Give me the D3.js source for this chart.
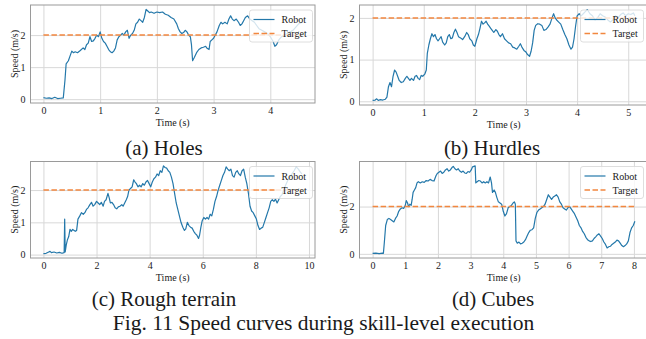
<!DOCTYPE html>
<html>
<head>
<meta charset="utf-8">
<script src="https://cdn.jsdelivr.net/npm/d3@7"></script>
<style>
  body { margin: 0; background: #fff; }
  svg { display: block; }
  text { font-family: "Liberation Serif", "Times New Roman", serif; fill: #1a1a1a; }
</style>
</head>
<body>
<svg id="fig" width="646" height="339"></svg>
<script>
// ---- data ----
const holesTime = [0, 0.05, 0.1, 0.15, 0.2, 0.25, 0.3, 0.35, 0.38, 0.4, 0.44, 0.47, 0.5, 0.53, 0.56, 0.6, 0.65, 0.7, 0.73, 0.76, 0.79, 0.82, 0.85, 0.88, 0.91, 0.94, 0.97, 1.0, 1.03, 1.06, 1.09, 1.12, 1.15, 1.18, 1.21, 1.24, 1.27, 1.3, 1.33, 1.36, 1.39, 1.42, 1.45, 1.48, 1.51, 1.54, 1.57, 1.6, 1.63, 1.66, 1.69, 1.72, 1.75, 1.78, 1.81, 1.84, 1.87, 1.9, 1.95, 2.0, 2.05, 2.1, 2.15, 2.2, 2.25, 2.3, 2.35, 2.38, 2.41, 2.44, 2.47, 2.5, 2.53, 2.56, 2.59, 2.61, 2.63, 2.66, 2.7, 2.74, 2.78, 2.82, 2.86, 2.89, 2.92, 2.94, 2.97, 3.0, 3.03, 3.06, 3.1, 3.13, 3.16, 3.2, 3.24, 3.27, 3.3, 3.33, 3.36, 3.4, 3.44, 3.47, 3.5, 3.53, 3.56, 3.6, 3.64, 3.68, 3.72, 3.76, 3.8, 3.85, 3.9, 3.95, 4.0, 4.05, 4.08, 4.11, 4.15, 4.2, 4.25, 4.3, 4.35, 4.4, 4.45, 4.5, 4.56]
const holesSpeed = [0.05, 0.03, 0.04, 0.02, 0.06, 0.02, 0.03, 0.04, 0.6, 1.1, 1.2, 1.35, 1.5, 1.45, 1.48, 1.45, 1.52, 1.6, 1.55, 1.7, 1.75, 1.95, 1.8, 1.82, 1.9, 2.0, 1.95, 2.1, 1.9, 1.8, 1.75, 1.65, 1.55, 1.48, 1.45, 1.5, 1.6, 1.85, 1.95, 2.0, 2.05, 2.0, 2.1, 2.15, 1.9, 2.0, 2.05, 2.15, 2.35, 2.4, 2.5, 2.45, 2.4, 2.55, 2.8, 2.75, 2.7, 2.72, 2.68, 2.72, 2.7, 2.72, 2.65, 2.62, 2.55, 2.5, 2.35, 2.2, 2.1, 2.05, 2.08, 2.15, 2.1, 2.0, 1.95, 1.7, 1.2, 1.3, 1.45, 1.55, 1.6, 1.62, 1.65, 1.58, 1.55, 1.8, 1.85, 1.9, 2.0, 2.1, 2.3, 2.4, 2.35, 2.4, 2.35, 2.5, 2.6, 2.5, 2.45, 2.5, 2.4, 2.3, 2.35, 2.45, 2.55, 2.6, 2.5, 2.45, 2.4, 2.3, 2.2, 2.15, 2.1, 2.05, 1.95, 1.8, 1.65, 1.7, 1.85, 1.95, 2.0, 2.05, 2.1, 2.15, 2.25, 2.35, 2.4]

const hurdlesTime = [0, 0.05, 0.08, 0.11, 0.15, 0.2, 0.25, 0.28, 0.31, 0.34, 0.37, 0.4, 0.43, 0.46, 0.49, 0.52, 0.56, 0.6, 0.64, 0.67, 0.7, 0.73, 0.76, 0.8, 0.83, 0.86, 0.89, 0.92, 0.95, 0.98, 1.02, 1.05, 1.07, 1.1, 1.13, 1.16, 1.19, 1.22, 1.25, 1.28, 1.31, 1.34, 1.37, 1.41, 1.44, 1.47, 1.5, 1.53, 1.56, 1.59, 1.62, 1.65, 1.68, 1.72, 1.76, 1.8, 1.84, 1.87, 1.9, 1.94, 1.97, 2.0, 2.04, 2.07, 2.1, 2.13, 2.16, 2.19, 2.22, 2.25, 2.28, 2.31, 2.34, 2.37, 2.41, 2.44, 2.47, 2.5, 2.54, 2.58, 2.62, 2.66, 2.7, 2.74, 2.78, 2.82, 2.86, 2.89, 2.92, 2.96, 3.0, 3.03, 3.07, 3.1, 3.13, 3.16, 3.19, 3.23, 3.27, 3.31, 3.35, 3.39, 3.43, 3.47, 3.51, 3.54, 3.57, 3.6, 3.64, 3.68, 3.72, 3.76, 3.8, 3.84, 3.88, 3.91, 3.94, 3.97, 4.0, 4.04, 4.08, 4.12, 4.16, 4.2, 4.25, 4.3, 4.35, 4.4, 4.45, 4.5, 4.55, 4.6, 4.65, 4.7, 4.75, 4.8, 4.85, 4.9, 4.95, 5.0, 5.05, 5.1, 5.13]
const hurdlesSpeed = [0.02, 0.03, 0.06, 0.02, 0.04, 0.03, 0.05, 0.1, 0.35, 0.45, 0.35, 0.6, 0.75, 0.7, 0.6, 0.5, 0.45, 0.47, 0.55, 0.6, 0.55, 0.5, 0.55, 0.5, 0.6, 0.62, 0.55, 0.52, 0.62, 0.6, 0.65, 0.75, 1.15, 1.35, 1.5, 1.62, 1.55, 1.6, 1.5, 1.45, 1.5, 1.55, 1.42, 1.35, 1.4, 1.55, 1.6, 1.5, 1.52, 1.65, 1.73, 1.65, 1.55, 1.52, 1.48, 1.55, 1.65, 1.6, 1.5, 1.45, 1.35, 1.32, 1.5, 1.6, 1.75, 1.92, 1.85, 1.88, 1.92, 1.85, 1.8, 1.75, 1.7, 1.65, 1.72, 1.68, 1.6, 1.55, 1.62, 1.5, 1.45, 1.4, 1.38, 1.3, 1.28, 1.25, 1.32, 1.38, 1.3, 1.22, 1.18, 1.12, 1.08, 1.2, 1.4, 1.7, 1.82, 1.86, 1.85, 1.82, 1.7, 1.72, 1.78, 1.85, 2.0, 2.1, 2.0, 1.95, 1.9, 1.85, 1.72, 1.6, 1.5, 1.35, 1.25, 1.3, 1.5, 1.8, 2.05, 2.1, 2.05, 2.1, 2.15, 2.2, 2.1, 2.05, 1.95, 2.0, 2.1, 2.05, 2.02, 1.95, 1.9, 1.95, 2.05, 2.0, 2.08, 2.12, 2.05, 2.1, 2.08, 2.12, 2.05]

const roughTime = [0, 0.1, 0.2, 0.25, 0.3, 0.4, 0.5, 0.6, 0.7, 0.78, 0.8, 0.82, 0.86, 0.9, 0.95, 1.0, 1.05, 1.1, 1.2, 1.25, 1.3, 1.37, 1.43, 1.5, 1.56, 1.62, 1.68, 1.75, 1.81, 1.87, 1.93, 2.0, 2.06, 2.12, 2.18, 2.25, 2.3, 2.36, 2.43, 2.48, 2.52, 2.58, 2.64, 2.7, 2.76, 2.82, 2.88, 2.95, 3.0, 3.06, 3.12, 3.17, 3.22, 3.28, 3.34, 3.4, 3.45, 3.5, 3.56, 3.62, 3.68, 3.74, 3.8, 3.86, 3.92, 3.98, 4.04, 4.1, 4.16, 4.22, 4.28, 4.34, 4.4, 4.46, 4.52, 4.58, 4.64, 4.7, 4.76, 4.82, 4.88, 4.94, 5.0, 5.06, 5.12, 5.18, 5.25, 5.31, 5.36, 5.42, 5.48, 5.54, 5.6, 5.66, 5.72, 5.78, 5.84, 5.88, 5.93, 5.98, 6.04, 6.1, 6.16, 6.22, 6.28, 6.34, 6.4, 6.46, 6.52, 6.58, 6.64, 6.7, 6.76, 6.82, 6.88, 6.94, 7.0, 7.06, 7.12, 7.18, 7.24, 7.3, 7.36, 7.42, 7.48, 7.54, 7.6, 7.66, 7.72, 7.78, 7.84, 7.9, 7.96, 8.02, 8.08, 8.14, 8.2, 8.26, 8.32, 8.38, 8.44, 8.5, 8.56, 8.62, 8.68, 8.74, 8.8, 8.86, 8.92, 8.98, 9.05, 9.12, 9.2, 9.28, 9.36, 9.44, 9.52, 9.6, 9.68, 9.74]
const roughSpeed = [0.03, 0.04, 0.08, 0.1, 0.06, 0.08, 0.05, 0.07, 0.04, 0.06, 1.1, 0.08, 0.3, 0.45, 0.55, 0.78, 0.72, 0.78, 0.72, 0.75, 1.1, 1.2, 1.3, 1.25, 1.3, 1.4, 1.45, 1.55, 1.62, 1.5, 1.55, 1.65, 1.6, 1.55, 1.62, 1.5, 1.65, 1.7, 1.9, 1.75, 1.6, 1.62, 1.55, 1.45, 1.42, 1.48, 1.5, 1.55, 1.5, 1.6, 1.7, 1.8, 2.0, 2.05, 2.1, 2.32, 2.25, 2.2, 2.1, 2.15, 2.1, 2.2, 2.15, 2.25, 2.3, 2.2, 2.1, 2.25, 2.35, 2.4, 2.5, 2.45, 2.6, 2.55, 2.75, 2.7, 2.68, 2.6, 2.55, 2.4, 2.2, 1.9, 1.6, 1.4, 1.2, 1.0, 0.85, 0.75, 0.8, 1.0, 0.9, 0.85, 0.82, 0.72, 0.65, 0.6, 0.5, 0.6, 0.85, 1.05, 1.15, 1.1, 1.15, 1.1, 1.25, 1.2, 1.4, 1.65, 1.8, 2.0, 2.15, 2.3, 2.45, 2.55, 2.72, 2.65, 2.6, 2.65, 2.45, 2.4, 2.55, 2.6, 2.5, 2.45, 2.6, 2.65, 2.4, 2.2, 1.9, 1.5, 1.35, 1.3, 1.2, 1.1, 0.9, 0.78, 0.82, 0.85, 1.0, 1.15, 1.3, 1.45, 1.65, 1.7, 1.65, 1.72, 1.6, 1.7, 1.8, 1.85, 2.0, 2.15, 2.3, 2.4, 2.5, 2.6, 2.72, 2.65, 2.55, 2.5]

const cubesTime = [0, 0.1, 0.2, 0.3, 0.33, 0.36, 0.4, 0.45, 0.5, 0.55, 0.6, 0.65, 0.7, 0.75, 0.8, 0.85, 0.9, 0.95, 1.0, 1.03, 1.07, 1.1, 1.14, 1.18, 1.21, 1.24, 1.28, 1.32, 1.36, 1.4, 1.46, 1.52, 1.58, 1.64, 1.7, 1.76, 1.82, 1.88, 1.94, 1.98, 2.03, 2.08, 2.13, 2.18, 2.23, 2.28, 2.33, 2.38, 2.43, 2.47, 2.52, 2.57, 2.62, 2.67, 2.72, 2.77, 2.82, 2.87, 2.92, 2.97, 3.02, 3.06, 3.1, 3.14, 3.16, 3.2, 3.25, 3.3, 3.35, 3.4, 3.45, 3.5, 3.55, 3.6, 3.64, 3.67, 3.72, 3.76, 3.8, 3.85, 3.9, 3.95, 4.0, 4.05, 4.1, 4.15, 4.2, 4.25, 4.3, 4.34, 4.37, 4.39, 4.43, 4.48, 4.53, 4.58, 4.63, 4.68, 4.73, 4.78, 4.83, 4.88, 4.93, 4.98, 5.03, 5.08, 5.13, 5.18, 5.23, 5.28, 5.33, 5.38, 5.43, 5.48, 5.53, 5.58, 5.63, 5.68, 5.73, 5.78, 5.83, 5.88, 5.93, 5.98, 6.03, 6.08, 6.13, 6.18, 6.23, 6.28, 6.33, 6.38, 6.43, 6.48, 6.53, 6.58, 6.63, 6.68, 6.73, 6.78, 6.83, 6.88, 6.93, 6.98, 7.03, 7.08, 7.13, 7.18, 7.23, 7.28, 7.33, 7.38, 7.43, 7.48, 7.53, 7.58, 7.63, 7.68, 7.73, 7.78, 7.83, 7.88, 7.93, 7.98, 8.03]
const cubesSpeed = [0.02, 0.03, 0.01, 0.03, 0.02, 0.5, 1.2, 1.45, 1.5, 1.45, 1.4, 1.35, 1.5, 1.6, 1.8, 1.9, 1.95, 1.92, 2.05, 2.25, 2.15, 2.0, 2.1, 2.05, 2.3, 2.6, 2.7, 2.8, 3.0, 3.05, 3.0, 3.05, 3.02, 3.1, 3.08, 3.15, 3.1, 3.08, 3.3, 3.4, 3.45, 3.5, 3.4, 3.45, 3.55, 3.6, 3.5, 3.55, 3.65, 3.7, 3.6, 3.55, 3.6, 3.5, 3.45, 3.5, 3.42, 3.4, 3.48, 3.45, 3.55, 3.68, 3.7, 3.72, 3.0, 3.05, 3.1, 3.08, 3.0, 3.05, 3.0, 3.05, 3.0, 3.25, 3.0, 2.6, 2.7, 2.6, 2.4, 2.2, 2.15, 2.1, 1.8, 1.6, 1.7, 1.95, 2.0, 2.05, 2.15, 2.2, 2.1, 0.55, 0.45, 0.5, 0.42, 0.45, 0.5, 0.6, 0.75, 0.9, 1.0, 1.02, 1.1, 1.5, 1.75, 1.85, 1.9, 1.95, 2.0, 2.1, 2.3, 2.5, 2.4, 2.3, 2.4, 2.45, 2.5, 2.4, 2.2, 2.1, 1.95, 1.9, 1.85, 1.95, 2.0, 1.9, 1.8, 1.7, 1.55, 1.4, 1.2, 1.1, 0.95, 0.85, 0.7, 0.6, 0.55, 0.52, 0.55, 0.65, 0.72, 0.8, 0.85, 0.75, 0.65, 0.5, 0.4, 0.25, 0.3, 0.32, 0.4, 0.45, 0.5, 0.58, 0.55, 0.45, 0.35, 0.3, 0.35, 0.42, 0.55, 0.9, 1.1, 1.2, 1.38]

const targetSpeed = 2
const legendLabels = ['Robot', 'Target']
const xLabel = 'Time (s)'
const yLabel = 'Speed (m/s)'
const captions = ['(a) Holes', '(b) Hurdles', '(c) Rough terrain', '(d) Cubes']
const figCaption = 'Fig. 11 Speed curves during skill-level execution'

const holesXTicks = [0, 1, 2, 3, 4]
const hurdlesXTicks = [0, 1, 2, 3, 4, 5]
const roughXTicks = [0, 2, 4, 6, 8, 10]
const cubesXTicks = [0, 1, 2, 3, 4, 5, 6, 7, 8]
const holesYTicks = [0, 1, 2]
const hurdlesYTicks = [0, 1, 2]
const roughYTicks = [0, 1, 2]
const cubesYTicks = [0, 2]

// ---- layout ----
const robotColor = '#2478aa'
const targetColor = '#f2873f'
const serif = '"Liberation Serif", "Times New Roman", serif'

const panels = [
  { t: holesTime, v: holesSpeed, xt: holesXTicks, yt: holesYTicks, x0: 30.5, x1: 315, y0: 5, y1: 103, cap: captions[0], cx: 164, cy: 155 },
  { t: hurdlesTime, v: hurdlesSpeed, xt: hurdlesXTicks, yt: hurdlesYTicks, x0: 359.5, x1: 648, y0: 5, y1: 105, cap: captions[1], cx: 492, cy: 155 },
  { t: roughTime, v: roughSpeed, xt: roughXTicks, yt: roughYTicks, x0: 30.5, x1: 315, y0: 161.5, y1: 258, cap: captions[2], cx: 164, cy: 305.5 },
  { t: cubesTime, v: cubesSpeed, xt: cubesXTicks, yt: cubesYTicks, x0: 359.5, x1: 648, y0: 161.5, y1: 258, cap: captions[3], cx: 493, cy: 305.5 }
]

const svg = d3.select('#fig')
svg.append('rect').attr('width', 646).attr('height', 339).attr('fill', '#fff')

// matplotlib style 5% margins
function padded (ext) {
  const r = ext[1] - ext[0]
  return [ext[0] - r * 0.05, ext[1] + r * 0.05]
}

panels.forEach((p, i) => {
  const x = d3.scaleLinear().domain(padded(d3.extent(p.t))).range([p.x0, p.x1])
  const y = d3.scaleLinear().domain(padded(d3.extent(p.v))).range([p.y1, p.y0])
  const w = p.x1 - p.x0
  const h = p.y1 - p.y0
  const g = svg.append('g')

  svg.append('clipPath').attr('id', 'clip' + i)
    .append('rect').attr('x', p.x0).attr('y', p.y0).attr('width', w).attr('height', h)

  //* * grid
  g.append('g')
    .attr('transform', `translate(0,${p.y1})`)
    .call(d3.axisBottom(x).tickValues(p.xt).tickSize(-h).tickFormat(''))
    .call(s => s.select('.domain').remove())
    .selectAll('line').attr('stroke', '#d8d8d8').attr('stroke-width', 1)
  g.append('g')
    .attr('transform', `translate(${p.x0},0)`)
    .call(d3.axisLeft(y).tickValues(p.yt).tickSize(-w).tickFormat(''))
    .call(s => s.select('.domain').remove())
    .selectAll('line').attr('stroke', '#d8d8d8').attr('stroke-width', 1)

  //* * lines
  const pts = p.t.map((d, k) => [d, p.v[k]])
  const line = d3.line().x(d => x(d[0])).y(d => y(d[1]))
  const plot = g.append('g').attr('clip-path', `url(#clip${i})`)
  plot.append('path')
    .datum(pts)
    .attr('d', line)
    .attr('fill', 'none')
    .attr('stroke', robotColor)
    .attr('stroke-width', 1.2)
    .attr('stroke-linejoin', 'round')
  plot.append('line')
    .attr('x1', x(p.t[0])).attr('x2', x(p.t[p.t.length - 1]))
    .attr('y1', y(targetSpeed)).attr('y2', y(targetSpeed))
    .attr('stroke', targetColor)
    .attr('stroke-width', 1.5)
    .attr('stroke-dasharray', '5.5,2.5')

  //* * frame
  g.append('rect')
    .attr('x', p.x0).attr('y', p.y0).attr('width', w).attr('height', h)
    .attr('fill', 'none').attr('stroke', '#9a9a9a').attr('stroke-width', 1)

  //* * tick labels
  g.append('g')
    .attr('transform', `translate(0,${p.y1})`)
    .call(d3.axisBottom(x).tickValues(p.xt).tickSize(0).tickPadding(4).tickFormat(d3.format('d')))
    .attr('font-family', serif)
    .attr('font-size', 10)
    .call(s => s.select('.domain').remove())
    .selectAll('text')
    .attr('fill', '#1a1a1a')
  g.append('g')
    .attr('transform', `translate(${p.x0},0)`)
    .call(d3.axisLeft(y).tickValues(p.yt).tickSize(0).tickPadding(5).tickFormat(d3.format('d')))
    .attr('font-family', serif)
    .attr('font-size', 10)
    .call(s => s.select('.domain').remove())
    .selectAll('text')
    .attr('fill', '#1a1a1a')

  //* * axis labels
  g.append('text')
    .attr('x', (p.x0 + Math.min(p.x1, 646)) / 2 + (p.x1 > 646 ? 1 : 0))
    .attr('y', p.y1 + 23)
    .attr('text-anchor', 'middle')
    .attr('font-family', serif)
    .attr('font-size', 10)
    .text(xLabel)
  g.append('text')
    .attr('transform', `translate(${p.x0 - 13},${(p.y0 + p.y1) / 2}) rotate(-90)`)
    .attr('text-anchor', 'middle')
    .attr('font-family', serif)
    .attr('font-size', 10)
    .text(yLabel)

  //* * legend
  const right = Math.min(p.x1, 646) - 2.5
  const lg = g.append('g').attr('transform', `translate(${right - 63},${p.y0 + 5})`)
  lg.append('rect')
    .attr('width', 63).attr('height', 32).attr('rx', 2.5)
    .attr('fill', '#fff').attr('fill-opacity', 0.8)
    .attr('stroke', '#d6d6d6').attr('stroke-width', 0.8)
  legendLabels.forEach((lab, k) => {
    const ly = 9.5 + k * 14
    lg.append('line')
      .attr('x1', 4).attr('x2', 25).attr('y1', ly).attr('y2', ly)
      .attr('stroke', k === 0 ? robotColor : targetColor)
      .attr('stroke-width', k === 0 ? 1.2 : 1.5)
      .attr('stroke-dasharray', k === 0 ? null : '5.5,2.5')
    lg.append('text')
      .attr('x', 32).attr('y', ly + 3.5)
      .attr('font-family', serif)
      .attr('font-size', 10)
      .text(lab)
  })

  //* * sub caption
  svg.append('text')
    .attr('x', p.cx).attr('y', p.cy)
    .attr('text-anchor', 'middle')
    .attr('font-family', serif)
    .attr('font-size', 21)
    .text(p.cap)
})

svg.append('text')
  .attr('x', 323.5).attr('y', 330)
  .attr('text-anchor', 'middle')
  .attr('font-family', serif)
  .attr('font-size', 21.5)
  .text(figCaption)
</script>
</body>
</html>
